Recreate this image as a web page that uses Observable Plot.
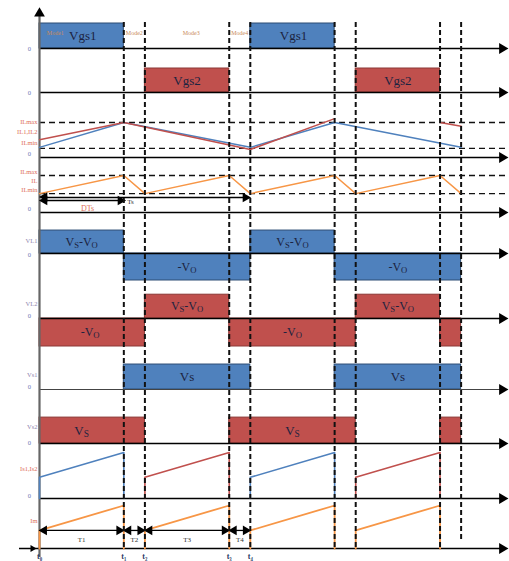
<!DOCTYPE html>
<html><head><meta charset="utf-8">
<script src="https://cdn.jsdelivr.net/npm/d3@7"></script>
<script src="https://cdn.jsdelivr.net/npm/@observablehq/plot@0.6"></script>
<style>body{margin:0;background:#fff}svg{display:block}</style>
</head><body><div id="chart"></div>
<script>
// ---- data ----
const switchInstants = [4, 5, 9, 10, 14, 15, 19, 20];
const tickTimes = [0, 4, 5, 9, 10];
const tickLabels = ["t₀", "t₁", "t₂", "t₃", "t₄"];
const modeNames = ["Mode1", "Mode2", "Mode3", "Mode4"];
const modeTimes = [0.75, 4.5, 7.2, 9.5];
const intervalNames = ["T1", "T2", "T3", "T4"];
const intervalStarts = [0, 4, 5, 9];
const intervalEnds = [4, 5, 9, 10];

const Vs = 1.85, Vo = 1;
const gate1On = [[0, 4], [10, 14]];
const gate2On = [[5, 9], [15, 19]];
const vL1Segments = [[0, 4, Vs - Vo], [4, 10, -Vo], [10, 14, Vs - Vo], [14, 20, -Vo]];
const vL2Segments = [[0, 5, -Vo], [5, 9, Vs - Vo], [9, 15, -Vo], [15, 19, Vs - Vo], [19, 20, -Vo]];
const vS1Segments = [[4, 10, Vs], [14, 20, Vs]];
const vS2Segments = [[0, 5, Vs], [9, 15, Vs], [19, 20, Vs]];

const ILmax12 = 10, ILmin12 = 2.6;
const iL1Points = [[0, 2.9], [4, 10], [10, 2.9], [14, 10], [20, 2.9]];
const iL2Points = [[0, 5.1], [4, 10], [10, 2.3], [14, 11.1]];
const iL2Tail = [[19, 10], [20, 8.9]];
const ILmax = 10, ILmin = 5.1;
const iLTimes = [0, 4, 5, 9, 10, 14, 15, 19, 20];
const iLValues = [5.1, 10, 5.1, 10, 5.1, 10, 5.1, 10, 5.1];

const switchStarts = [0, 5, 10, 15];
const switchEnds = [4, 9, 14, 19];
const isOwner = ["S1", "S2", "S1", "S2"];
const isStart = 0.46, isEnd = 1;
const imStart = 0.42, imEnd = 1;

// ---- layout (px from top baseline, px per unit) ----
const H = 561, W = 509;
const lanes = {
  gs1: {base: 48, k: 25}, gs2: {base: 92, k: 24}, il12: {base: 157, k: 3.5},
  il: {base: 212, k: 3.7}, vl1: {base: 253, k: 27}, vl2: {base: 318, k: 28},
  vs1: {base: 389, k: 13.5}, vs2: {base: 443, k: 14}, is: {base: 498, k: 46},
  im: {base: 548, k: 43}
};
const yv = (L, v) => H - (L.base - L.k * v);
const yp = px => H - px;
const pxT = px => (px - 39) / 21.08;

const BLUE = "#4f81bd", BLUE_S = "#2c4d75", RED = "#c0504d", RED_S = "#8c3836", ORANGE = "#f79646";
const TXT = "#1c2340", LBL = "#8f86b0", CUR = "#e0705a";
const FONT = "Liberation Serif, DejaVu Serif, serif";

function boxes(segs, L, fill, stroke) {
  return Plot.rect(segs, {x1: d => d[0], x2: d => d[1], y1: () => yv(L, 0), y2: d => yv(L, d[2] !== undefined ? d[2] : 1), fill, stroke, strokeWidth: 1});
}
function tri(data, opts) {
  return Plot.dot(data, {symbol: "triangle", fill: "black", stroke: "none", r: 3.6, ...opts});
}

const laneKeys = Object.keys(lanes);
const axisEnd = 21.95;

// ramps for switch currents and magnetizing current
const isPts = [], imPts = [];
switchStarts.forEach((s, i) => {
  const e = switchEnds[i];
  [[s, 0], [s, isStart], [e, isEnd], [e, 0]].forEach(p => isPts.push({t: p[0], v: p[1], g: i, c: isOwner[i]}));
  [[s, 0], [s, imStart], [e, imEnd], [e, 0]].forEach(p => imPts.push({t: p[0], v: p[1], g: i}));
});

const boxText = [
  {t: 2.05, y: yv(lanes.gs1, 0.5), s: "Vgs1", fs: 13}, {t: 12.05, y: yv(lanes.gs1, 0.5), s: "Vgs1", fs: 13},
  {t: 7, y: yv(lanes.gs2, 0.5), s: "Vgs2", fs: 13}, {t: 17, y: yv(lanes.gs2, 0.5), s: "Vgs2", fs: 13},
  {t: 2, y: yv(lanes.vl1, (Vs - Vo) / 2), s: "VS-VO", fs: 12}, {t: 12, y: yv(lanes.vl1, (Vs - Vo) / 2), s: "VS-VO", fs: 12},
  {t: 7, y: yv(lanes.vl1, -Vo / 2), s: "-VO", fs: 12}, {t: 17, y: yv(lanes.vl1, -Vo / 2), s: "-VO", fs: 12},
  {t: 7, y: yv(lanes.vl2, (Vs - Vo) / 2), s: "VS-VO", fs: 12}, {t: 17, y: yv(lanes.vl2, (Vs - Vo) / 2), s: "VS-VO", fs: 12},
  {t: 2.4, y: yv(lanes.vl2, -Vo / 2), s: "-VO", fs: 12}, {t: 12, y: yv(lanes.vl2, -Vo / 2), s: "-VO", fs: 12},
  {t: 7, y: yv(lanes.vs1, Vs / 2), s: "Vs", fs: 13}, {t: 17, y: yv(lanes.vs1, Vs / 2), s: "Vs", fs: 13},
  {t: 2, y: yv(lanes.vs2, Vs / 2), s: "VS", fs: 13}, {t: 12, y: yv(lanes.vs2, Vs / 2), s: "VS", fs: 13}
];

const leftLabels = [
  {y: 121, s: "ILmax", c: CUR}, {y: 131, s: "IL1,IL2", c: CUR}, {y: 142, s: "ILmin", c: CUR},
  {y: 171, s: "ILmax", c: CUR}, {y: 180, s: "IL", c: CUR}, {y: 189, s: "ILmin", c: CUR},
  {y: 240, s: "VL1", c: LBL}, {y: 303, s: "VL2", c: LBL}, {y: 374, s: "Vs1", c: LBL},
  {y: 426, s: "Vs2", c: LBL}, {y: 468, s: "Is1,Is2", c: CUR}, {y: 520, s: "Im", c: CUR}
];
const zeroY = [48, 92, 153, 208, 254, 315, 386, 442, 495];

const marks = [
  // boxes
  boxes(gate1On, lanes.gs1, BLUE, BLUE_S),
  boxes(gate2On, lanes.gs2, RED, RED_S),
  boxes(vL1Segments, lanes.vl1, BLUE, BLUE_S),
  boxes(vL2Segments, lanes.vl2, RED, RED_S),
  boxes(vS1Segments, lanes.vs1, BLUE, BLUE_S),
  boxes(vS2Segments, lanes.vs2, RED, RED_S),
  // dashed horizontal level lines
  Plot.ruleY([ILmax12, ILmin12], {y: v => yv(lanes.il12, v), x1: 0, x2: 22.3, stroke: "#111", strokeWidth: 1.4, strokeDasharray: "6,4"}),
  Plot.ruleY([ILmax, ILmin], {y: v => yv(lanes.il, v), x1: 0, x2: 22.3, stroke: "#111", strokeWidth: 1.4, strokeDasharray: "6,4"}),
  // axes
  Plot.ruleY(laneKeys.filter(k => k !== "im"), {y: k => yv(lanes[k], 0), x1: 0, x2: axisEnd, stroke: k => k === "vs1" ? "#444" : "#000", strokeWidth: k => k === "vs1" ? 1.2 : 1.6}),
  Plot.ruleY(["im"], {y: k => yv(lanes[k], 0), x1: pxT(19), x2: axisEnd, stroke: "#000", strokeWidth: 1.6}),
  tri(laneKeys, {x: 21.95, y: k => yv(lanes[k], 0), rotate: 90, r: 4}),
  tri(["im"], {x: pxT(32), y: k => yv(lanes[k], 0), rotate: 90, r: 2.6}),
  Plot.ruleX([0], {y1: yp(557), y2: yp(14), stroke: "#666", strokeWidth: 2.2}),
  tri([0], {x: 0, y: yp(13), r: 4}),
  // currents
  Plot.line(iL1Points, {x: d => d[0], y: d => yv(lanes.il12, d[1]), stroke: BLUE, strokeWidth: 1.5}),
  Plot.line(iL2Points, {x: d => d[0], y: d => yv(lanes.il12, d[1]), stroke: RED, strokeWidth: 1.5}),
  Plot.line(iL2Tail, {x: d => d[0], y: d => yv(lanes.il12, d[1]), stroke: RED, strokeWidth: 1.5}),
  Plot.line(iLTimes, {x: t => t, y: (t, i) => yv(lanes.il, iLValues[i]), stroke: ORANGE, strokeWidth: 1.5}),
  Plot.line(isPts, {x: "t", y: d => yv(lanes.is, d.v), z: "g", stroke: d => d.c === "S1" ? BLUE : RED, strokeWidth: 1.6}),
  Plot.line(imPts, {x: "t", y: d => yv(lanes.im, d.v), z: "g", stroke: ORANGE, strokeWidth: 1.8}),
  // DTs / Ts arrows
  Plot.ruleY([0], {y: yp(200), x1: pxT(44), x2: pxT(121), stroke: "#000", strokeWidth: 1.3}),
  Plot.ruleY([0], {y: yp(197), x1: pxT(44), x2: pxT(246), stroke: "#000", strokeWidth: 1.3}),
  tri([pxT(44)], {x: t => t, y: yp(200), rotate: -90}),
  tri([pxT(44)], {x: t => t, y: yp(196.5), rotate: -90}),
  tri([pxT(120)], {x: t => t, y: yp(200), rotate: 90}),
  tri([pxT(245)], {x: t => t, y: yp(197), rotate: 90}),
  Plot.text(["DTs"], {x: pxT(87), y: yp(208), text: d => d, fontSize: 8, fill: CUR, fontFamily: FONT}),
  Plot.text(["Ts"], {x: pxT(130), y: yp(201), text: d => d, fontSize: 7, fill: "#333", fontFamily: FONT}),
  // interval arrows T1..T4
  Plot.ruleY(intervalNames, {y: yv(lanes.im, imStart), x1: (d, i) => intervalStarts[i], x2: (d, i) => intervalEnds[i], stroke: "#000", strokeWidth: 1.3}),
  tri(intervalNames, {x: (d, i) => intervalStarts[i] + 0.22, y: yv(lanes.im, imStart), rotate: -90}),
  tri(intervalNames, {x: (d, i) => intervalEnds[i] - 0.22, y: yv(lanes.im, imStart), rotate: 90}),
  Plot.text(intervalNames, {x: (d, i) => (intervalStarts[i] + intervalEnds[i]) / 2, y: yp(539), text: d => d, fontSize: 7, fill: "#333", fontFamily: FONT}),
  // dashed switching instants
  Plot.ruleX(switchInstants, {y1: yp(22), y2: d => d === 20 ? yp(540) : yp(549), stroke: "#111", strokeWidth: 2, strokeDasharray: "5,3"}),
  // texts
  Plot.text(boxText, {x: "t", y: "y", text: "s", fontSize: "fs", fill: TXT, fontFamily: FONT}),
  Plot.text(modeNames, {x: (d, i) => modeTimes[i], y: yp(33), text: d => d, fontSize: 6, fill: "#c98a5a", fontFamily: FONT}),
  Plot.text(leftLabels, {x: pxT(37), y: d => yp(d.y), text: "s", fill: "c", fontSize: 6.5, textAnchor: "end", fontFamily: FONT}),
  Plot.text(zeroY, {x: pxT(29), y: d => yp(d), text: () => "0", fill: "#6a78b8", fontSize: 6.5, fontFamily: FONT}),
  Plot.text(tickLabels, {x: (d, i) => tickTimes[i], y: yp(556), text: d => d, fill: "#2c3a66", fontSize: 8, fontWeight: "bold", fontFamily: FONT})
];

const chart = Plot.plot({
  width: W, height: H, margin: 0, marginLeft: 39, marginRight: 2,
  x: {domain: [0, 22.2], axis: null},
  y: {domain: [0, H], axis: null},
  style: {background: "#fff", fontFamily: FONT},
  marks
});

// subscripts for S and O in voltage labels
chart.querySelectorAll("text").forEach(t => {
  const s = t.textContent;
  if (/^(VS-VO|-VO|VS)$/.test(s)) {
    const fs = parseFloat(t.getAttribute("font-size") || 12);
    while (t.firstChild) t.removeChild(t.firstChild);
    const ns = "http://www.w3.org/2000/svg";
    for (const ch of s) {
      const sp = document.createElementNS(ns, "tspan");
      sp.textContent = ch;
      if (ch === "S" || ch === "O") { sp.setAttribute("font-size", fs * 0.72); sp.setAttribute("dy", "2"); }
      else if (ch === "-" || ch === "V") { sp.setAttribute("dy", sp.previousSibling ? "0" : "0"); }
      t.appendChild(sp);
    }
    // reset baseline after subscripts
    const sps = t.querySelectorAll("tspan");
    let shifted = 0;
    sps.forEach(sp => {
      const ch = sp.textContent;
      if (ch === "S" || ch === "O") { sp.setAttribute("dy", 2 - shifted); shifted = 2; }
      else { sp.setAttribute("dy", -shifted); shifted = 0; }
    });
  }
});
document.getElementById("chart").appendChild(chart);
</script>
</body></html>
